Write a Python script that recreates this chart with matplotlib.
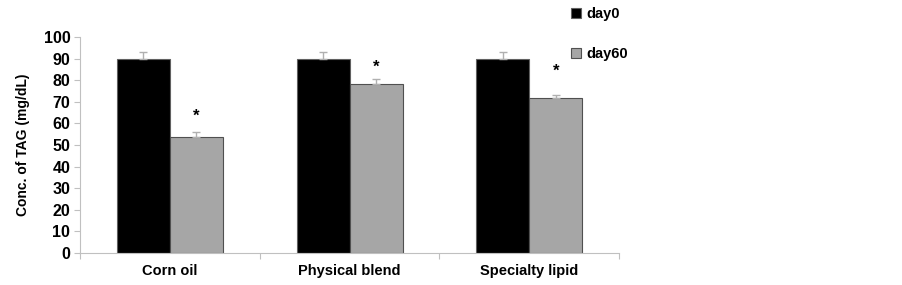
import matplotlib.pyplot as plt
import numpy as np

plt.rcParams['font.family'] = ['Liberation Sans', 'DejaVu Sans']
plt.rcParams['font.weight'] = 'bold'

# data
groups = ['Corn oil', 'Physical blend', 'Specialty lipid']
day0 = [90, 90, 90]
day0_err = [3, 3, 3]
day60 = [53.5, 78.2, 71.8]
day60_err = [2.5, 2.5, 1.5]
star_y = [63.5, 86, 84]  # where the significance marks sit

fig = plt.figure(figsize=(9.02, 2.85), dpi=100)
ax = fig.add_axes([0.0887, 0.1123, 0.5977, 0.7579])

x = np.arange(len(groups))
w = 0.295
err_kw = dict(ecolor='#b0b0b0', elinewidth=1, capsize=3, capthick=1)

ax.bar(x - w / 2, day0, w, color='black', edgecolor='#606060', linewidth=0.8,
       yerr=[np.zeros(3), day0_err], error_kw=err_kw, label='day0')
ax.bar(x + w / 2, day60, w, color='#a6a6a6', edgecolor='#505050', linewidth=0.8,
       yerr=[np.zeros(3), day60_err], error_kw=err_kw, label='day60')

for xi, sy in zip(x, star_y):
    ax.text(xi + w / 2, sy, '*', ha='center', va='center', fontsize=12, fontweight='bold')

ax.set_xlim(-0.5, len(groups) - 0.5)
ax.set_ylim(0, 100)
ax.set_yticks(np.arange(0, 101, 10))
ax.set_xticks(x)
ax.set_xticklabels(groups, fontsize=10.5, fontweight='bold')
ax.set_xticks(np.arange(-0.5, len(groups), 1), minor=True)
ax.tick_params(axis='x', which='major', length=0, pad=8)
ax.tick_params(axis='x', which='minor', length=4, color='#c0c0c0', width=0.8)
ax.tick_params(axis='y', length=4, color='#c0c0c0', width=0.8, labelsize=11.5, pad=3)
for lab in ax.get_yticklabels():
    lab.set_fontweight('bold')
ax.set_ylabel('Conc. of TAG (mg/dL)', fontsize=10, fontweight='bold', labelpad=10)

for s in ['top', 'right']:
    ax.spines[s].set_visible(False)
for s in ['left', 'bottom']:
    ax.spines[s].set_color('#c0c0c0')
    ax.spines[s].set_linewidth(0.8)

ax.legend(loc='upper left', bbox_to_anchor=(0.618, 1.02), bbox_transform=fig.transFigure,
          frameon=False, handlelength=0.7, handleheight=0.7, handletextpad=0.4,
          labelspacing=1.75, prop=dict(weight='bold', size=10.5))

fig.savefig('out.png', dpi=100)
